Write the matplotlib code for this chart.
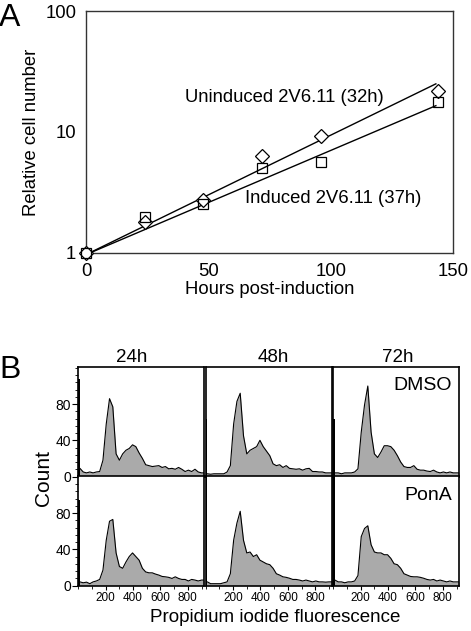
import numpy as np
import matplotlib
matplotlib.use("Agg")
import matplotlib.pyplot as plt
from matplotlib.ticker import MultipleLocator, FixedLocator

plt.rcParams['font.family'] = ['Liberation Sans', 'DejaVu Sans']

# ---------------- Panel A data ----------------
hours = [0, 24, 48, 72, 96, 144]
uninduced = [1.0, 1.8, 2.73, 6.3, 9.2, 21.9]
induced = [1.0, 2.0, 2.53, 5.0, 5.6, 17.8]
fit_hours = [0, 143]
uninduced_fit = [0.97, 25.0]
induced_fit = [0.97, 16.5]
xticks_a = [0, 50, 100, 150]
yticks_a = [1, 10, 100]

# ---------------- Panel B data ----------------
time_labels = ["24h", "48h", "72h"]
row_labels = ["DMSO", "PonA"]
bin_width = 24
# counts per 24-channel bin (bin centres 12, 36, ... 900)
dmso_24 = [9, 5, 4, 5, 4, 5, 5.5, 18, 58, 86, 77, 25, 18, 25, 29, 31, 35, 33, 26,
           20, 13, 12, 11, 11.5, 12, 10, 11, 8.5, 9, 8, 10, 8, 5.5, 7, 5.5, 8, 5, 4]
dmso_48 = [3, 2.5, 3, 3, 3, 3, 5, 12, 58, 83, 92, 45, 25, 29, 31, 33, 40, 33, 28,
           23, 14, 12, 13, 10, 12, 9, 8.5, 8, 8.5, 7, 8.5, 9, 5.5, 5.5, 5, 5, 4, 4]
dmso_72 = [4, 4, 3, 4, 4, 4, 5, 8.5, 49, 79, 100, 49, 25, 21, 27, 34, 34, 33, 29,
           23, 16, 11, 10, 10, 12, 8, 7, 7, 6, 5.5, 7, 5, 4, 5, 4, 5, 4, 4]
pona_24 = [4, 3, 3.7, 2, 4, 5, 6.7, 17, 50, 71, 73, 36, 21, 19, 26, 32, 36, 32, 28,
           19, 15, 14, 14, 12.6, 11.5, 10, 9.6, 9, 7.8, 9.6, 7.8, 6.7, 6.7, 5, 6.7, 6, 5, 6]
pona_48 = [4, 2, 2, 2, 2, 3, 4, 13, 50, 69, 82, 50, 36, 37, 32, 34, 28, 26, 24,
           23, 19, 13, 11.5, 9.6, 9, 8, 6.7, 6.7, 6, 5, 6, 5, 4, 5, 4, 4, 3.7, 4]
pona_72 = [6, 4, 4, 3, 4, 4, 5, 11, 54, 63, 66, 45, 37, 36, 36, 34, 34, 30, 24,
           23, 19, 13, 11.5, 10, 9.6, 9.6, 9, 8, 6.7, 6, 6.7, 5, 6, 5, 4, 5, 4, 4]
# counts in the very first channel (tall spike at the left edge)
first_channel = [[108, 64, 64], [94, 130, 130]]
hist_counts = [[dmso_24, dmso_48, dmso_72], [pona_24, pona_48, pona_72]]
yticks_b = [0, 40, 80]
xticks_b = [200, 400, 600, 800]

# ---------------- Figure ----------------
W, H = 471, 631
fig = plt.figure(figsize=(W / 100, H / 100), dpi=100)

def fx(px):
    return px / W

def fy(py):
    return 1 - py / H

FS = 13.3

# Panel A
axA = fig.add_axes([fx(86), fy(253), fx(453) - fx(86), fy(11) - fy(253)])
axA.set_yscale('log')
axA.set_xlim(0, 150)
axA.set_ylim(1, 100)
axA.plot(fit_hours, uninduced_fit, color='black', lw=1.0, zorder=2)
axA.plot(fit_hours, induced_fit, color='black', lw=1.0, zorder=2)
axA.plot(hours, uninduced, linestyle='none', marker='D', ms=7, mfc='white',
         mec='black', mew=0.9, clip_on=False, zorder=3)
axA.plot(hours, induced, linestyle='none', marker='s', ms=7.7, mfc='none',
         mec='black', mew=0.9, clip_on=False, zorder=4)
axA.set_xticks(xticks_a)
axA.set_xticklabels([str(t) for t in xticks_a])
axA.set_yticks(yticks_a)
axA.set_yticklabels([str(t) for t in yticks_a])
axA.yaxis.set_minor_locator(FixedLocator([]))
axA.tick_params(axis='y', length=0, labelsize=FS, pad=7)
axA.tick_params(axis='x', length=0, labelsize=FS, pad=7)
for s in axA.spines.values():
    s.set_color('#333333')
    s.set_linewidth(1.0)
axA.set_xlabel("Hours post-induction", fontsize=FS, labelpad=1)
axA.set_ylabel("Relative cell number", fontsize=FS, labelpad=4)
axA.text(fx(185), fy(97), "Uninduced 2V6.11 (32h)", transform=fig.transFigure,
         fontsize=FS, va='center', ha='left')
axA.text(fx(245), fy(199), "Induced 2V6.11 (37h)", transform=fig.transFigure,
         fontsize=FS, va='center', ha='left')
fig.text(fx(-1), fy(18), "A", fontsize=23, va='center', ha='left')

# Panel B
col_left = [78.3, 205.7, 333.3]
col_w = 126.0
row_top = [367, 476]
row_h = 109.5
centers = np.arange(len(dmso_24)) * bin_width + bin_width / 2
for r in range(2):
    for c in range(3):
        ax = fig.add_axes([fx(col_left[c]), fy(row_top[r] + row_h),
                           col_w / W, row_h / H])
        counts = np.asarray(hist_counts[r][c], dtype=float)
        xs = np.concatenate([[0], centers, [920]])
        ys = np.concatenate([[counts[0]], counts, [counts[-1]]])
        ax.fill_between(xs, 0, ys, color='#aaaaaa', lw=0, zorder=1)
        ax.plot(xs, ys, color='black', lw=0.8, zorder=2)
        ax.bar([0], [first_channel[r][c]], width=12, align='edge',
               color='black', zorder=3)
        ax.set_xlim(0, 920)
        ax.set_ylim(0, 121)
        for s in ax.spines.values():
            s.set_color('black')
            s.set_linewidth(1.2)
        ax.set_yticks(yticks_b)
        ax.yaxis.set_minor_locator(MultipleLocator(8))
        ax.set_xticks(xticks_b)
        ax.xaxis.set_minor_locator(MultipleLocator(100))
        if c == 0:
            ax.set_yticklabels([str(t) for t in yticks_b])
            ax.tick_params(axis='y', which='major', length=4, width=0.8,
                           labelsize=10, pad=1)
            ax.tick_params(axis='y', which='minor', length=2.5, width=0.6)
        else:
            ax.tick_params(axis='y', which='both', length=0, labelleft=False)
        if r == 1:
            ax.set_xticklabels([str(t) for t in xticks_b])
            ax.tick_params(axis='x', which='major', length=3, width=0.8,
                           labelsize=8.5, pad=2)
            ax.tick_params(axis='x', which='minor', length=2, width=0.6)
        else:
            ax.tick_params(axis='x', which='both', length=0, labelbottom=False)
        if c == 2:
            ax.text(0.94, 0.83 if r == 0 else 0.82, row_labels[r],
                    transform=ax.transAxes, fontsize=14, ha='right', va='center')

for c, cx in enumerate([132, 273, 398]):
    fig.text(fx(cx), fy(357), time_labels[c], fontsize=13.5, ha='center', va='center')
fig.text(fx(-1), fy(370), "B", fontsize=23, va='center', ha='left')
fig.text(fx(43), fy(478), "Count", fontsize=15, rotation=90, ha='center', va='center')
fig.text(fx(275), fy(618), "Propidium iodide fluorescence", fontsize=13.5,
         ha='center', va='center')

fig.savefig("out.png", dpi=100)
